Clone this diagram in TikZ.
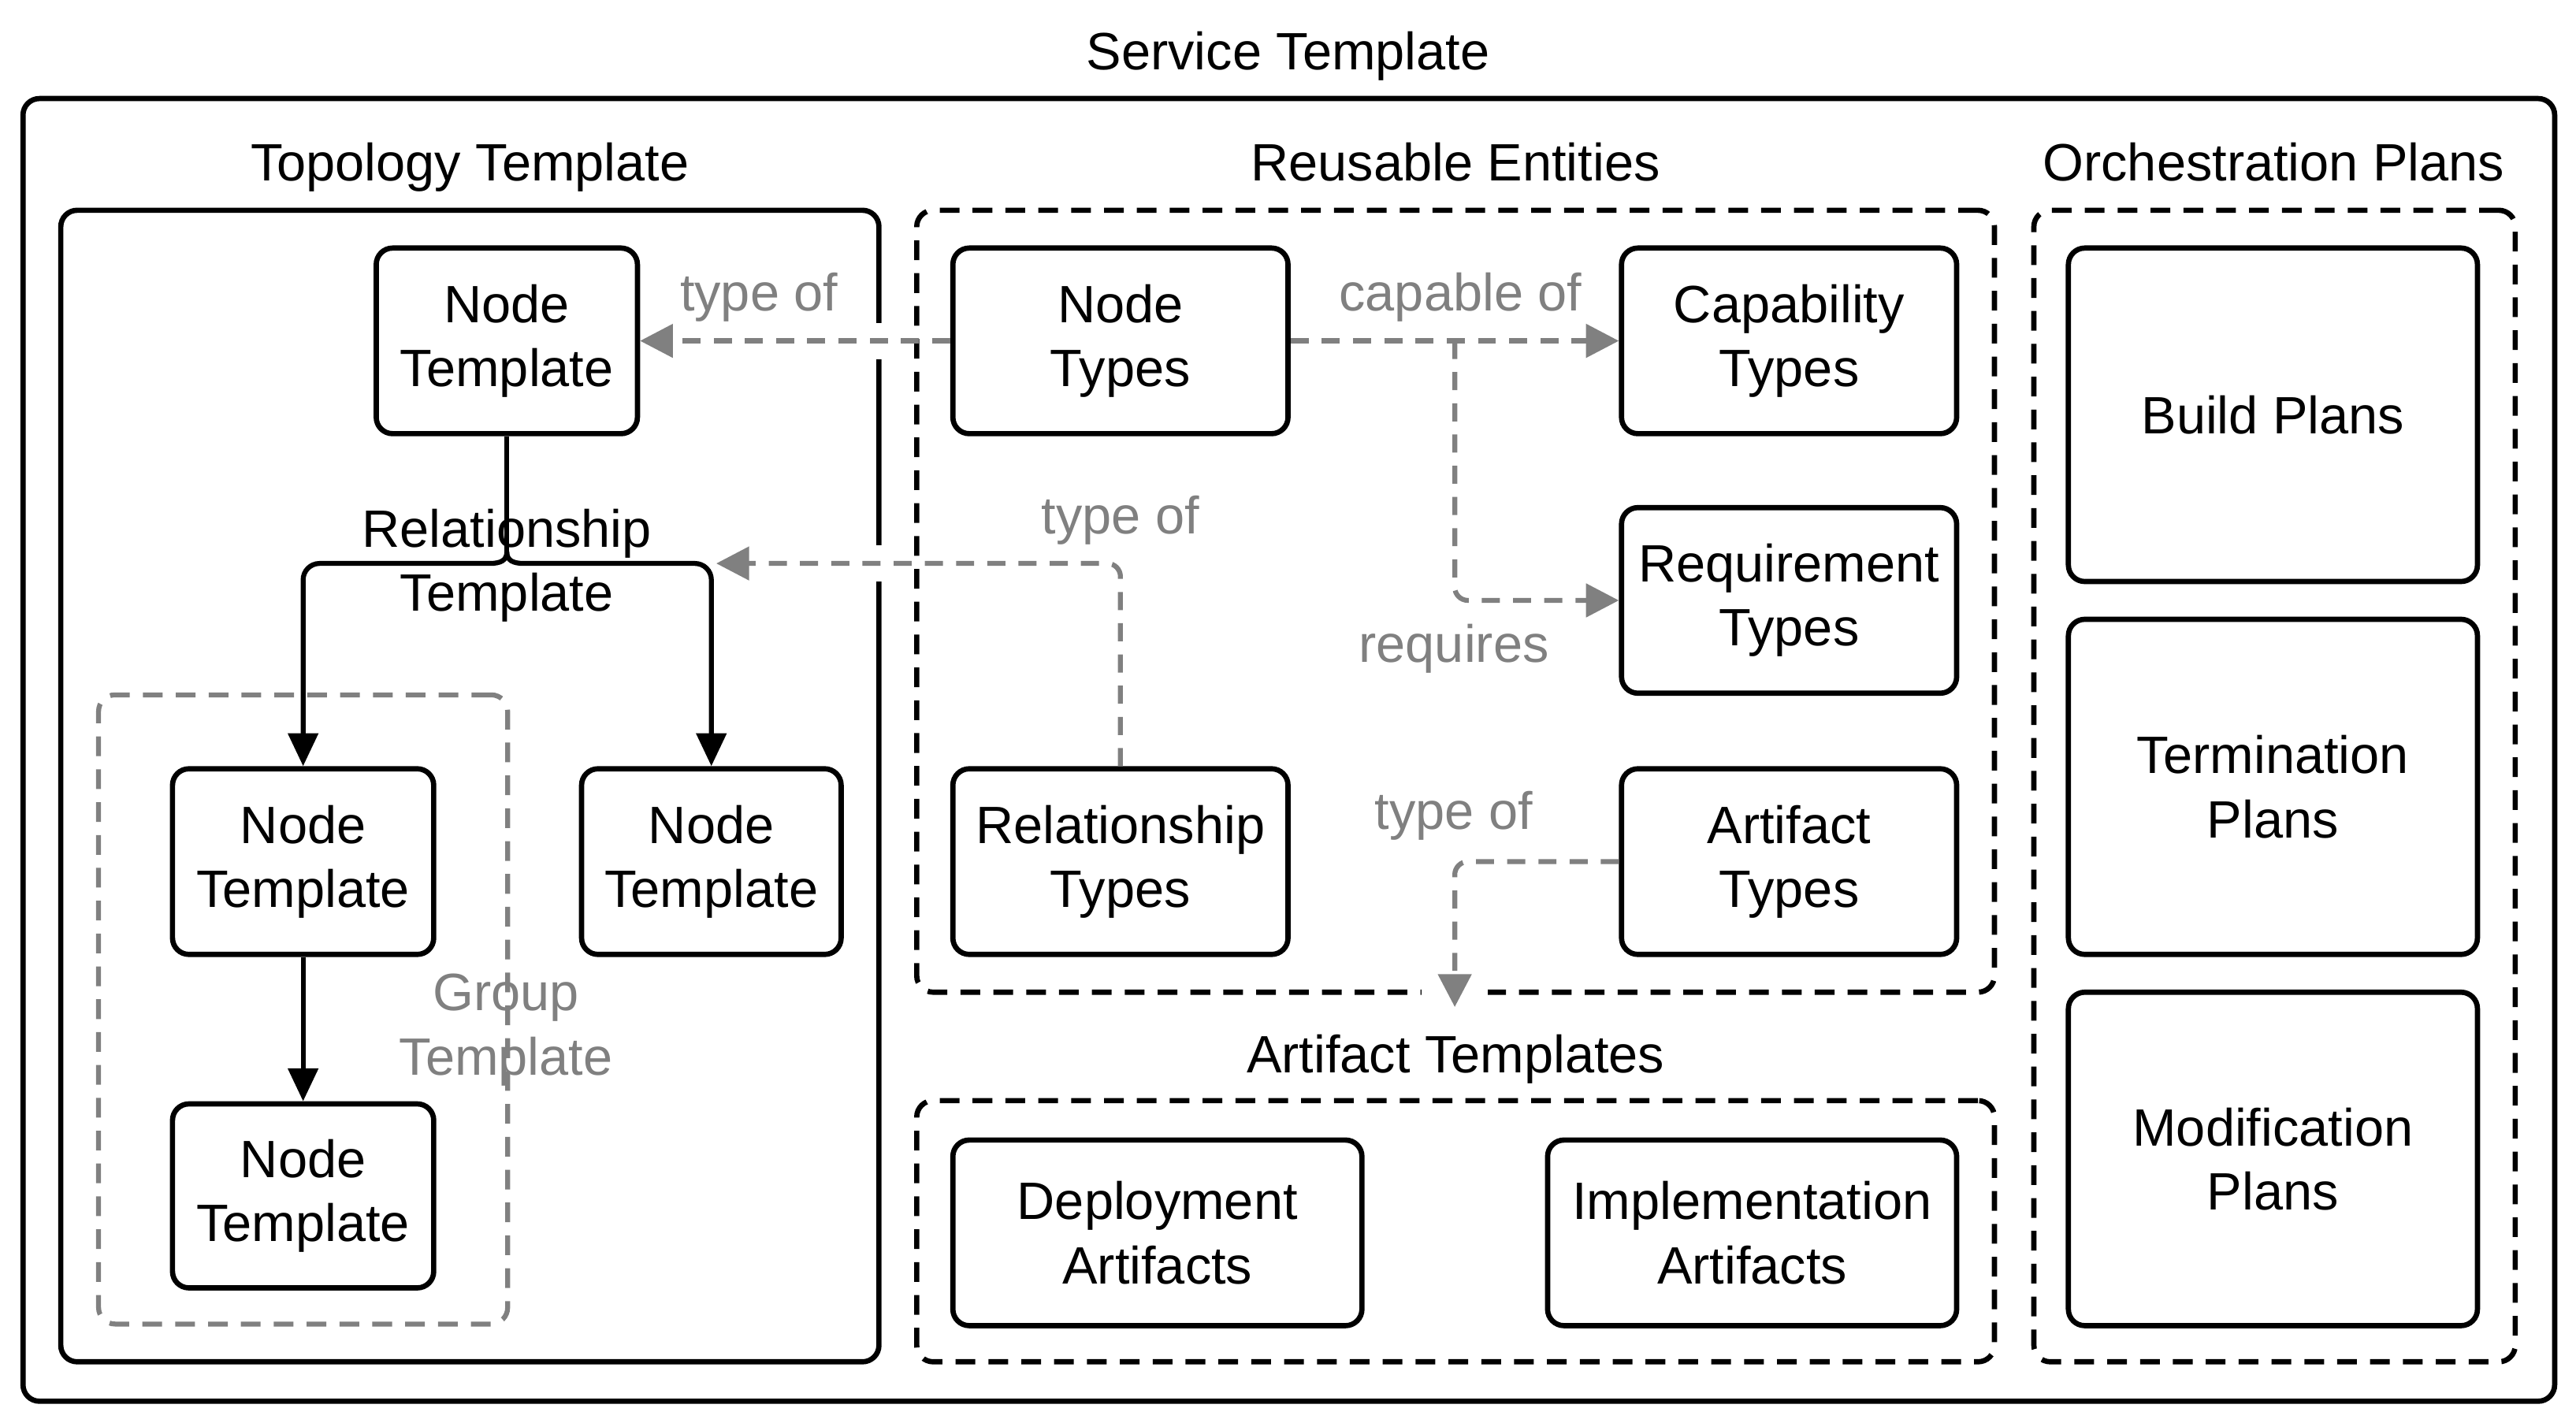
\documentclass[tikz,border=0pt]{standalone}
\usepackage{fontspec}
\setmainfont{Liberation Sans}
\usetikzlibrary{arrows.meta,calc}
\definecolor{gr}{HTML}{808080}
\begin{document}
\begin{tikzpicture}[x=1pt,y=-1pt,
  txt/.style={font=\fontsize{32}{39}\selectfont, align=center, inner sep=0pt},
  gtxt/.style={txt, text=gr},
  box/.style={txt, draw, line width=3.2pt, rounded corners=10pt},
  cont/.style={draw, line width=3.2pt, rounded corners=10pt, inner sep=0pt},
  dcont/.style={cont, dash pattern=on 12pt off 8pt},
  gcont/.style={cont, draw=gr, line width=3pt, dash pattern=on 12pt off 8pt},
  bconn/.style={draw, line width=3pt, -{Triangle[length=20pt,width=18pt]}},
  gconn/.style={draw=gr, line width=3pt, dash pattern=on 11pt off 8pt, rounded corners=8pt,
     -{Triangle[length=20pt,width=20pt,fill=gr]}}]
\useasboundingbox (0,0) rectangle (1568,866.2);

% containers
\node[cont, minimum width=1541pt, minimum height=793pt] (outer) at (784.5,456.5) {};
\node[cont, minimum width=498pt, minimum height=701pt] (topo) at (286,478.5) {};
\node[dcont, minimum width=656pt, minimum height=476pt] (reuse) at (886,366) {};
\node[dcont, minimum width=293pt, minimum height=701pt] (orch) at (1384.5,478.5) {};
\node[dcont, minimum width=656pt, minimum height=159pt] (artT) at (886,749.5) {};
\node[gcont, minimum width=249pt, minimum height=383pt] (group) at (184.5,614.5) {};

% container labels
\node[txt, anchor=base] (titleL) at (784,42.5) {Service Template};
\node[txt, anchor=base] (topoL) at (286,110) {Topology Template};
\node[txt, anchor=base] (reuseL) at (886,110) {Reusable Entities};
\node[txt, anchor=base] (orchL) at (1384,110) {Orchestration Plans};
\node[txt, anchor=base] (artTL) at (886,653) {Artifact Templates};
\node[gtxt] (groupL) at (308,627) {Group\\Template};

% boxes
\node[box, minimum width=159pt, minimum height=113pt] (ntTop) at (308.5,207.5) {Node\\Template};
\node[box, minimum width=159pt, minimum height=113pt] (ntL) at (184.5,524.5) {Node\\Template};
\node[box, minimum width=158pt, minimum height=113pt] (ntR) at (433,524.5) {Node\\Template};
\node[box, minimum width=159pt, minimum height=112pt] (ntB) at (184.5,728) {Node\\Template};
\node[box, minimum width=204pt, minimum height=113pt] (nodeTypes) at (682,207.5) {Node\\Types};
\node[box, minimum width=204pt, minimum height=113pt] (capTypes) at (1089,207.5) {Capability\\Types};
\node[box, minimum width=204pt, minimum height=113pt] (reqTypes) at (1089,365.5) {Requirement\\Types};
\node[box, minimum width=204pt, minimum height=113pt] (relTypes) at (682,524.5) {Relationship\\Types};
\node[box, minimum width=204pt, minimum height=113pt] (artTypes) at (1089,524.5) {Artifact\\Types};
\node[box, minimum width=249pt, minimum height=113pt] (depArt) at (704.5,750.5) {Deployment\\Artifacts};
\node[box, minimum width=249pt, minimum height=113pt] (implArt) at (1066.5,750.5) {Implementation\\Artifacts};
\node[box, minimum width=249pt, minimum height=203pt] (build) at (1383.5,252.5) {Build Plans};
\node[box, minimum width=249pt, minimum height=204pt] (term) at (1383.5,479) {Termination\\Plans};
\node[box, minimum width=249pt, minimum height=203pt] (modi) at (1383.5,705.5) {Modification\\Plans};

% relationship template brace
\coordinate (bt) at (308.5,336);
\coordinate (brL) at (184.5,343);
\coordinate (brR) at (433,343);
\coordinate (artEnd) at (885.5,613);
\coordinate (split) at ($(nodeTypes.east)!0.5!(capTypes.west)$);

% white gaps where dashed connectors cross borders
\fill[white] ($(topo.east |- ntTop.east)+(-6,-11)$) rectangle ($(topo.east |- ntTop.east)+(6,11)$);
\fill[white] ($(topo.east |- brR)+(-6,-11)$) rectangle ($(topo.east |- brR)+(6,11)$);
\fill[white] ($(reuse.south -| artEnd)+(-20,-6)$) rectangle ($(reuse.south -| artEnd)+(20,6)$);

\node[txt, anchor=base] (relL1) at (308.5,333) {Relationship};
\node[txt, anchor=base] (relL2) at (308.5,372) {Template};

\draw[line width=3pt] (ntTop.south) -- (bt);
\draw[bconn] (bt) .. controls (308.5,341) and (305,343) .. (298,343) [rounded corners=10pt] -- (brL) -- (ntL.north);
\draw[bconn] (bt) .. controls (308.5,341) and (312,343) .. (319,343) [rounded corners=10pt] -- (brR) -- (ntR.north);
\draw[bconn] (ntL.south) -- (ntB.north);

% gray dashed connectors
\draw[gconn] (nodeTypes.west) -- (ntTop.east);
\draw[gconn] (nodeTypes.east) -- (capTypes.west);
\draw[gconn] (split) |- (reqTypes.west);
\draw[gconn] (relTypes.north) |- ($(brR)+(3,0)$);
\draw[gconn] (artTypes.west) -| (artEnd);

% gray labels
\node[gtxt, anchor=base] (lbl1) at (462,189) {type of};
\node[gtxt, anchor=base] (lbl2) at (889,189) {capable of};
\node[gtxt, anchor=base] (lbl3) at (682,325) {type of};
\node[gtxt, anchor=base] (lbl4) at (885,403) {requires};
\node[gtxt, anchor=base] (lbl5) at (885,505) {type of};
\end{tikzpicture}
\end{document}
